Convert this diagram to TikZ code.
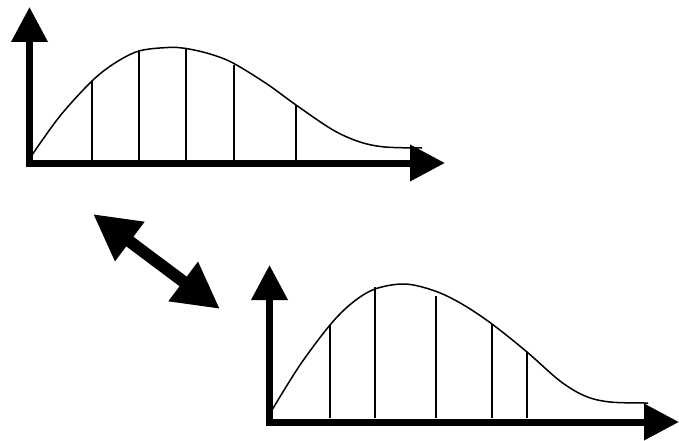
\documentclass[tikz,border=0pt]{standalone}
\usepackage{tikz}
\usetikzlibrary{arrows.meta}

\begin{document}
\begin{tikzpicture}[
    x=1pt, y=-1pt,
    axis/.style={line width=7pt, -{Triangle[length=35pt, width=35pt]}},
    curve/.style={line width=1.5pt},
    bar/.style={line width=1.6pt},
    swap/.style={line width=12pt, {Triangle[length=46pt, width=46pt]}-{Triangle[length=46pt, width=46pt]}}
]
    \useasboundingbox (0,0) rectangle (679,441);

    % Plot 1
    \coordinate (o1) at (29.5,163);
    \draw[axis] (29.5,167) -- (29.5,7);
    \draw[axis] (26,163) -- (445,163);
    \draw[curve] plot[smooth, tension=0.55] coordinates {(32,155) (60,116) (92,81) (115,63) (139,51) (168,47.5) (186,48.5) (210,54) (233,63) (267,84) (296,105) (333,130) (360,142) (385,147) (422,148)};
    \draw[bar] (92,160) -- (92,81);
    \draw[bar] (139,160) -- (139,50);
    \draw[bar] (186,160) -- (186,48);
    \draw[bar] (234,160) -- (234,65);
    \draw[bar] (296,160) -- (296,105);

    % Plot 2
    \coordinate (o2) at (269.5,422);
    \draw[axis] (269.5,426) -- (269.5,265);
    \draw[axis] (266,422) -- (679,422);
    \draw[curve] plot[smooth, tension=0.55] coordinates {(272,410) (300,365) (330,325) (352,303) (375,289) (405,284) (435,291) (462,304) (492,324) (527,352) (560,381) (585,396) (610,402) (648,403)};
    \draw[bar] (330,418) -- (330,325);
    \draw[bar] (375,418) -- (375,287);
    \draw[bar] (436,418) -- (436,296);
    \draw[bar] (492,418) -- (492,324);
    \draw[bar] (527,418) -- (527,352);

    % Double arrow
    \coordinate (p1) at (93,214);
    \coordinate (p2) at (220,309);
    \draw[swap] (p1) -- (p2);
\end{tikzpicture}
\end{document}
